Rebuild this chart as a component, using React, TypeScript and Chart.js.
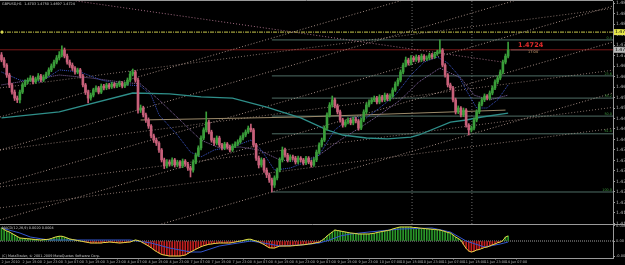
import React, { useEffect, useRef } from "react";
import { Chart, registerables } from "chart.js";

Chart.register(...registerables);

const FONT = '"DejaVu Sans", "Liberation Sans", sans-serif';

// ---------------- data ----------------
const symbolCaption = "GBPUSD,H1  1.4703 1.4750 1.4697 1.4724";
const macdCaption = "MACD(12,26,9) 0.0020 0.0004";
const copyright = "(C) MetaTrader, \u00a9 2001-2009 MetaQuotes Software Corp.";

const firstOpen = 1.4707;
const closes = [
  1.4690, 1.4673, 1.4640, 1.4607, 1.4583, 1.4563, 1.4557, 1.4583, 1.4607, 1.4617,
  1.4623, 1.4630, 1.4617, 1.4627, 1.4637, 1.4623, 1.4633, 1.4643, 1.4657, 1.4670,
  1.4683, 1.4697, 1.4707, 1.4723, 1.4703, 1.4683, 1.4673, 1.4663, 1.4650, 1.4657,
  1.4637, 1.4607, 1.4583, 1.4563, 1.4573, 1.4590, 1.4597, 1.4583, 1.4603, 1.4597,
  1.4607, 1.4600, 1.4610, 1.4603, 1.4607, 1.4613, 1.4603, 1.4610, 1.4623, 1.4643,
  1.4650, 1.4623, 1.4523, 1.4530, 1.4507, 1.4490, 1.4470, 1.4437, 1.4423, 1.4413,
  1.4390, 1.4357, 1.4337, 1.4350, 1.4343, 1.4357, 1.4340, 1.4350, 1.4337, 1.4353,
  1.4343, 1.4330, 1.4323, 1.4350, 1.4373, 1.4397, 1.4430, 1.4457, 1.4483, 1.4450,
  1.4423, 1.4413, 1.4430, 1.4407, 1.4397, 1.4410, 1.4400, 1.4390, 1.4403, 1.4410,
  1.4417, 1.4430, 1.4440, 1.4450, 1.4463, 1.4457, 1.4407, 1.4363, 1.4340, 1.4357,
  1.4323, 1.4307, 1.4290, 1.4273, 1.4297, 1.4323, 1.4357, 1.4390, 1.4373, 1.4357,
  1.4367, 1.4363, 1.4350, 1.4363, 1.4357, 1.4347, 1.4363, 1.4350, 1.4340, 1.4357,
  1.4383, 1.4407, 1.4423, 1.4463, 1.4507, 1.4540, 1.4557, 1.4537, 1.4517, 1.4490,
  1.4473, 1.4483, 1.4490, 1.4480, 1.4493, 1.4487, 1.4463, 1.4490, 1.4517, 1.4540,
  1.4550, 1.4557, 1.4563, 1.4550, 1.4567, 1.4557, 1.4573, 1.4560, 1.4570, 1.4590,
  1.4610, 1.4623, 1.4650, 1.4673, 1.4690, 1.4680, 1.4697, 1.4690, 1.4700, 1.4690,
  1.4703, 1.4693, 1.4697, 1.4707, 1.4700, 1.4710, 1.4717, 1.4723, 1.4673, 1.4640,
  1.4607, 1.4597, 1.4557, 1.4517, 1.4530, 1.4507, 1.4523, 1.4473, 1.4457, 1.4463,
  1.4490, 1.4517, 1.4543, 1.4557, 1.4570, 1.4563, 1.4580, 1.4597, 1.4617, 1.4630,
  1.4650, 1.4683, 1.4703, 1.4724,
];
const highs = [
  1.4715, 1.4698, 1.4678, 1.4646, 1.4612, 1.4590, 1.4570, 1.4590, 1.4614, 1.4624,
  1.4630, 1.4638, 1.4636, 1.4633, 1.4645, 1.4642, 1.4640, 1.4650, 1.4664, 1.4677,
  1.4690, 1.4705, 1.4718, 1.4737, 1.4730, 1.4710, 1.4690, 1.4680, 1.4668, 1.4663,
  1.4662, 1.4642, 1.4612, 1.4590, 1.4580, 1.4596, 1.4604, 1.4602, 1.4610, 1.4609,
  1.4613, 1.4612, 1.4616, 1.4615, 1.4613, 1.4620, 1.4618, 1.4616, 1.4630, 1.4652,
  1.4660, 1.4655, 1.4630, 1.4540, 1.4536, 1.4513, 1.4497, 1.4475, 1.4443, 1.4430,
  1.4418, 1.4395, 1.4363, 1.4358, 1.4357, 1.4364, 1.4362, 1.4356, 1.4355, 1.4360,
  1.4358, 1.4349, 1.4336, 1.4357, 1.4380, 1.4404, 1.4437, 1.4464, 1.4517, 1.4490,
  1.4456, 1.4430, 1.4437, 1.4436, 1.4412, 1.4416, 1.4415, 1.4406, 1.4410, 1.4417,
  1.4424, 1.4437, 1.4447, 1.4457, 1.4470, 1.4476, 1.4462, 1.4412, 1.4370, 1.4364,
  1.4362, 1.4330, 1.4313, 1.4296, 1.4304, 1.4330, 1.4364, 1.4400, 1.4396, 1.4379,
  1.4374, 1.4373, 1.4369, 1.4370, 1.4368, 1.4362, 1.4369, 1.4368, 1.4356, 1.4364,
  1.4390, 1.4414, 1.4430, 1.4470, 1.4514, 1.4548, 1.4570, 1.4563, 1.4543, 1.4523,
  1.4496, 1.4490, 1.4497, 1.4496, 1.4500, 1.4499, 1.4492, 1.4497, 1.4524, 1.4547,
  1.4557, 1.4564, 1.4570, 1.4569, 1.4574, 1.4572, 1.4580, 1.4578, 1.4577, 1.4597,
  1.4617, 1.4630, 1.4657, 1.4680, 1.4700, 1.4696, 1.4705, 1.4703, 1.4707, 1.4706,
  1.4710, 1.4708, 1.4704, 1.4713, 1.4712, 1.4716, 1.4723, 1.4757, 1.4728, 1.4678,
  1.4645, 1.4613, 1.4602, 1.4563, 1.4537, 1.4535, 1.4530, 1.4528, 1.4478, 1.4470,
  1.4497, 1.4524, 1.4550, 1.4564, 1.4577, 1.4575, 1.4587, 1.4604, 1.4624, 1.4637,
  1.4657, 1.4690, 1.4710, 1.4750,
];
const lows = [
  1.4684, 1.4665, 1.4632, 1.4598, 1.4576, 1.4555, 1.4548, 1.4547, 1.4578, 1.4601,
  1.4611, 1.4618, 1.4610, 1.4612, 1.4621, 1.4617, 1.4618, 1.4628, 1.4638, 1.4651,
  1.4664, 1.4677, 1.4690, 1.4700, 1.4697, 1.4676, 1.4665, 1.4655, 1.4643, 1.4644,
  1.4630, 1.4600, 1.4575, 1.4547, 1.4556, 1.4567, 1.4584, 1.4577, 1.4578, 1.4590,
  1.4591, 1.4594, 1.4595, 1.4597, 1.4598, 1.4601, 1.4597, 1.4598, 1.4605, 1.4618,
  1.4637, 1.4616, 1.4513, 1.4515, 1.4500, 1.4482, 1.4462, 1.4430, 1.4415, 1.4405,
  1.4382, 1.4350, 1.4328, 1.4330, 1.4336, 1.4337, 1.4333, 1.4334, 1.4330, 1.4331,
  1.4336, 1.4322, 1.4300, 1.4316, 1.4344, 1.4368, 1.4390, 1.4424, 1.4450, 1.4444,
  1.4416, 1.4405, 1.4407, 1.4400, 1.4390, 1.4391, 1.4393, 1.4384, 1.4385, 1.4398,
  1.4404, 1.4412, 1.4424, 1.4434, 1.4445, 1.4450, 1.4400, 1.4355, 1.4330, 1.4333,
  1.4315, 1.4298, 1.4282, 1.4250, 1.4265, 1.4290, 1.4317, 1.4350, 1.4366, 1.4350,
  1.4351, 1.4356, 1.4343, 1.4344, 1.4350, 1.4340, 1.4341, 1.4344, 1.4333, 1.4335,
  1.4351, 1.4377, 1.4400, 1.4418, 1.4456, 1.4500, 1.4533, 1.4530, 1.4510, 1.4483,
  1.4466, 1.4467, 1.4477, 1.4474, 1.4474, 1.4480, 1.4456, 1.4458, 1.4484, 1.4511,
  1.4534, 1.4544, 1.4551, 1.4544, 1.4544, 1.4550, 1.4551, 1.4554, 1.4554, 1.4565,
  1.4585, 1.4604, 1.4617, 1.4644, 1.4667, 1.4673, 1.4674, 1.4684, 1.4685, 1.4684,
  1.4685, 1.4687, 1.4688, 1.4691, 1.4694, 1.4695, 1.4705, 1.4712, 1.4667, 1.4633,
  1.4600, 1.4590, 1.4550, 1.4510, 1.4511, 1.4500, 1.4501, 1.4466, 1.4440, 1.4450,
  1.4457, 1.4484, 1.4511, 1.4537, 1.4551, 1.4557, 1.4557, 1.4574, 1.4591, 1.4611,
  1.4624, 1.4644, 1.4677, 1.4697,
];

const macdValues = [
  0.0052, 0.0046, 0.0040, 0.0036, 0.0030, 0.0024, 0.0018, 0.0012, 0.0011, 0.0010,
  0.0009, 0.0008, 0.0007, 0.0006, 0.0005, 0.0004, 0.0006, 0.0006, 0.0007, 0.0010,
  0.0014, 0.0017, 0.0019, 0.0019, 0.0016, 0.0012, 0.0008, 0.0006, 0.0004, 0.0002,
  0.0000, -0.0002, -0.0004, -0.0006, -0.0008, -0.0008, -0.0008, -0.0008, -0.0008, -0.0006,
  -0.0006, -0.0004, -0.0005, -0.0006, -0.0007, -0.0008, -0.0007, -0.0006, -0.0005, -0.0004,
  0.0000, 0.0004, 0.0002, -0.0002, -0.0008, -0.0014, -0.0020, -0.0027, -0.0035, -0.0042,
  -0.0048, -0.0054, -0.0056, -0.0058, -0.0060, -0.0060, -0.0060, -0.0060, -0.0060, -0.0058,
  -0.0056, -0.0050, -0.0044, -0.0039, -0.0033, -0.0028, -0.0023, -0.0019, -0.0016, -0.0013,
  -0.0012, -0.0010, -0.0009, -0.0008, -0.0008, -0.0008, -0.0008, -0.0008, -0.0006, -0.0004,
  -0.0002, 0.0000, 0.0002, 0.0005, 0.0007, 0.0007, 0.0003, 0.0000, -0.0003, -0.0009,
  -0.0014, -0.0021, -0.0027, -0.0028, -0.0028, -0.0024, -0.0020, -0.0020, -0.0020, -0.0020,
  -0.0020, -0.0019, -0.0018, -0.0017, -0.0016, -0.0015, -0.0014, -0.0012, -0.0011, -0.0009,
  -0.0006, -0.0005, 0.0002, 0.0010, 0.0020, 0.0028, 0.0036, 0.0044, 0.0042, 0.0040,
  0.0038, 0.0036, 0.0034, 0.0032, 0.0031, 0.0030, 0.0028, 0.0028, 0.0028, 0.0028,
  0.0028, 0.0030, 0.0031, 0.0034, 0.0036, 0.0038, 0.0040, 0.0042, 0.0044, 0.0048,
  0.0051, 0.0054, 0.0056, 0.0056, 0.0056, 0.0056, 0.0056, 0.0054, 0.0054, 0.0052,
  0.0051, 0.0050, 0.0049, 0.0048, 0.0047, 0.0046, 0.0045, 0.0044, 0.0041, 0.0038,
  0.0034, 0.0032, 0.0024, 0.0016, 0.0010, 0.0003, -0.0014, -0.0030, -0.0040, -0.0044,
  -0.0041, -0.0036, -0.0034, -0.0030, -0.0026, -0.0024, -0.0020, -0.0015, -0.0012, -0.0007,
  -0.0004, 0.0002, 0.0016, 0.0020,
];
const macdSignal = [
  [0, 0.0052], [7, 0.0032], [11, 0.0016], [18, 0.0004], [49, 0.0004], [57, -0.0008],
  [64, -0.0028], [72, -0.0044], [76, -0.0044], [83, -0.0020], [95, 0.0000], [102, -0.0012],
  [106, -0.0020], [114, -0.0016], [121, -0.0008], [125, 0.0004], [129, 0.0020], [133, 0.0028],
  [140, 0.0036], [152, 0.0048], [164, 0.0052], [171, 0.0036], [177, 0.0000], [184, -0.0024],
  [190, -0.0012], [193, -0.0004],
];

const timeLabels = [
  "2 Jun 2010", "2 Jun 15:00", "2 Jun 23:00", "3 Jun 07:00", "3 Jun 15:00", "3 Jun 23:00",
  "4 Jun 07:00", "4 Jun 15:00", "4 Jun 23:00", "7 Jun 07:00", "7 Jun 15:00", "7 Jun 23:00",
  "8 Jun 07:00", "8 Jun 15:00", "8 Jun 23:00", "9 Jun 07:00", "9 Jun 15:00", "9 Jun 23:00",
  "10 Jun 07:00", "10 Jun 15:00", "10 Jun 23:00", "11 Jun 07:00", "11 Jun 15:00", "11 Jun 23:00",
  "14 Jun 07:00",
];
const barsPerTimeLabel = 8;

const priceTicks = [
  1.4145, 1.4180, 1.4215, 1.4250, 1.4285, 1.4320, 1.4355, 1.4390, 1.4425, 1.4460, 1.4495,
  1.4530, 1.4565, 1.4600, 1.4635, 1.4670, 1.4705, 1.4740, 1.4775, 1.4810, 1.4845, 1.4880,
];
const macdTicks = [0.0061, 0, -0.0061];
const macdTickLabels = ["0.0061", "0.00", "-0.0061"];

// moving averages: [bar, price]
const maSlow = [
  [0, 1.4497], [22, 1.4517], [50, 1.4580], [64, 1.4577], [76, 1.4567], [88, 1.4563],
  [101, 1.4533], [114, 1.4497], [124, 1.4457], [130, 1.4440], [139, 1.4430], [147, 1.4427],
  [156, 1.4433], [159, 1.4440], [171, 1.4483], [177, 1.4490], [183, 1.4500], [193, 1.4513],
];
const maFast = [
  [0, 1.4650], [7, 1.4623], [15, 1.4617], [22, 1.4657], [30, 1.4650], [38, 1.4623],
  [45, 1.4610], [53, 1.4603], [57, 1.4573], [60, 1.4507], [67, 1.4440], [72, 1.4383],
  [76, 1.4367], [81, 1.4390], [89, 1.4403], [95, 1.4423], [99, 1.4390], [104, 1.4323],
  [110, 1.4330], [116, 1.4350], [121, 1.4373], [127, 1.4457], [133, 1.4497], [139, 1.4497],
  [144, 1.4530], [150, 1.4573], [156, 1.4640], [161, 1.4683], [166, 1.4700], [170, 1.4680],
  [174, 1.4640], [177, 1.4590], [181, 1.4530], [185, 1.4530], [189, 1.4557], [193, 1.4607],
];
const maMid = [
  [0, 1.4607], [11, 1.4623], [22, 1.4640], [34, 1.4630], [45, 1.4617], [53, 1.4610],
  [60, 1.4557], [68, 1.4490], [76, 1.4423], [83, 1.4397], [91, 1.4400], [98, 1.4390],
  [106, 1.4357], [114, 1.4350], [121, 1.4373], [129, 1.4423], [137, 1.4467], [144, 1.4507],
  [152, 1.4557], [159, 1.4617], [167, 1.4663], [175, 1.4630], [180, 1.4573], [186, 1.4557],
  [193, 1.4573],
];
const maLong = [[53, 1.4490], [114, 1.4500], [192, 1.4523]];

// drawn objects: [barA, priceA, barB, priceB]
const gentleLines = [
  [-0.57, 1.4597, 233.7, 1.4863], [-0.57, 1.4390, 233.7, 1.4657],
  [-0.57, 1.4267, 233.7, 1.4533], [-0.57, 1.4197, 233.7, 1.4463],
];
const channelLines = [
  [-0.57, 1.3987, 233.7, 1.4582], [-0.57, 1.4157, 233.7, 1.4752],
  [-0.57, 1.4277, 233.7, 1.4872], [-0.57, 1.4390, 233.7, 1.4985],
  [-0.57, 1.4500, 233.7, 1.5095],
];
const descLine = [[26, 1.4890], [191, 1.4683]];
const fibStartBar = 103;
const fibLevels = [1.4757, 1.4637, 1.4563, 1.4503, 1.4444, 1.4250];
const fibLabels = ["0.0", "23.6", "38.2", "50.0", "61.8", "100.0"];
const alertLevel = 1.4783;
const bidPrice = 1.4724;
const separatorBars = [156.4, 179.2];
const bidText = { bar: 196.8, price: 1.4733, text: "1.4724" };
const timerText = { bar: 200.6, price: 1.4712, text: "17:04" };
const bidTag = [[194, 1.4724], [205, 1.4724]];

// ---------------- chart ----------------
const XMIN = -0.5714;
const XMAX = 232.95;
const PMIN = 1.41433;
const PMAX = 1.48867;
const AXIS = "#9a9a9a";
const LABEL = "#b8b8b8";
const UP = "#3a9e3a";
const DOWN = "#c8607a";

const pts = (arr: number[][]) => arr.map(([x, y]) => ({ x, y }));
const seg = (l: number[]) => [{ x: l[0], y: l[1] }, { x: l[2], y: l[3] }];

function lineDs(data: any[], color: string, extra: any = {}) {
  return {
    type: "line",
    data,
    borderColor: color,
    borderWidth: 1,
    pointRadius: 0,
    tension: 0,
    fill: false,
    order: 3,
    ...extra,
  };
}

export default function App() {
  const mainRef = useRef<HTMLCanvasElement>(null);
  const subRef = useRef<HTMLCanvasElement>(null);

  useEffect(() => {
    document.body.style.margin = "0";
    document.body.style.background = "#000";
    const opens = closes.map((c, i) => (i === 0 ? firstOpen : closes[i - 1]));
    const isUp = (i: number) => closes[i] >= opens[i];

    const datasets: any[] = [];
    datasets.push({
      type: "bar",
      data: closes.map((c, i) => ({ x: i, y: [opens[i], c] })),
      backgroundColor: (ctx: any) => (isUp(ctx.dataIndex) ? UP : DOWN),
      barThickness: 2,
      minBarLength: 1,
      grouped: false,
      order: 1,
    });
    datasets.push({
      type: "bar",
      data: closes.map((c, i) => ({ x: i, y: [lows[i], highs[i]] })),
      backgroundColor: (ctx: any) => (isUp(ctx.dataIndex) ? UP : DOWN),
      barThickness: 1,
      grouped: false,
      order: 1,
    });
    datasets.push(lineDs(pts(maSlow), "#2f8f8a", { borderWidth: 1.3, order: 2 }));
    datasets.push(lineDs(pts(maFast), "#3b55c8", { borderDash: [1, 1], order: 2 }));
    datasets.push(lineDs(pts(maMid), "#8a6aa8", { borderDash: [1, 1], order: 2 }));
    datasets.push(lineDs(pts(maLong), "#9c8a6a", { order: 2 }));
    gentleLines.forEach((l) => datasets.push(lineDs(seg(l), "rgba(200,170,160,0.65)", { borderDash: [1, 2] })));
    channelLines.forEach((l) => datasets.push(lineDs(seg(l), "rgba(210,180,170,0.75)", { borderDash: [1, 2] })));
    datasets.push(lineDs(pts(descLine), "#a06a80", { borderDash: [1, 2] }));
    fibLevels.forEach((lv) =>
      datasets.push(lineDs([{ x: fibStartBar, y: lv }, { x: XMAX, y: lv }], "#4f6e66"))
    );
    datasets.push(lineDs([{ x: XMIN, y: alertLevel }, { x: XMAX, y: alertLevel }], "#c8c84a", { borderDash: [4, 1, 1, 1] }));
    datasets.push(lineDs([{ x: XMIN, y: bidPrice }, { x: XMAX, y: bidPrice }], "#7a1818"));
    datasets.push(lineDs(pts(bidTag), "#9a9a9a"));
    separatorBars.forEach((b) =>
      datasets.push(lineDs([{ x: b, y: PMIN }, { x: b, y: PMAX }], "#6a6a6a", { borderDash: [1, 2] }))
    );

    const mainDecor = {
      id: "mainDecor",
      afterDraw(chart: any) {
        const { ctx, chartArea: a, scales } = chart;
        const x = scales.x;
        const y = scales.y;
        ctx.save();
        ctx.strokeStyle = AXIS;
        ctx.lineWidth = 1;
        ctx.beginPath();
        ctx.moveTo(a.left, a.top - 0.5);
        ctx.lineTo(a.right, a.top - 0.5);
        ctx.moveTo(a.left, a.bottom + 0.5);
        ctx.lineTo(chart.width, a.bottom + 0.5);
        ctx.stroke();

        ctx.fillStyle = "#d8d850";
        ctx.fillRect(a.left + 1, y.getPixelForValue(alertLevel) - 1.5, 2, 3);

        ctx.textBaseline = "top";
        ctx.textAlign = "left";
        ctx.fillStyle = "#c8c8c8";
        ctx.font = `3.4px ${FONT}`;
        ctx.fillText(symbolCaption, a.left + 2, a.top + 1);

        ctx.textAlign = "right";
        ctx.textBaseline = "bottom";
        ctx.fillStyle = "#3d9a3d";
        ctx.font = `3.4px ${FONT}`;
        fibLevels.forEach((lv, k) => ctx.fillText(fibLabels[k], a.right - 1, y.getPixelForValue(lv) - 0.5));

        ctx.textAlign = "left";
        ctx.textBaseline = "alphabetic";
        ctx.fillStyle = "#e02a2a";
        ctx.font = `bold 6.5px ${FONT}`;
        ctx.fillText(bidText.text, x.getPixelForValue(bidText.bar), y.getPixelForValue(bidText.price));
        ctx.fillStyle = "#d0a070";
        ctx.font = `3.4px ${FONT}`;
        ctx.fillText(timerText.text, x.getPixelForValue(timerText.bar), y.getPixelForValue(timerText.price));

        const tag = (price: number, bg: string) => {
          const py = y.getPixelForValue(price);
          ctx.fillStyle = bg;
          ctx.fillRect(a.right + 1, py - 3, chart.width - a.right - 1, 6);
          ctx.fillStyle = "#000";
          ctx.font = `4.5px ${FONT}`;
          ctx.textBaseline = "middle";
          ctx.textAlign = "left";
          ctx.fillText(price.toFixed(4), a.right + 2, py);
        };
        tag(alertLevel, "#e6e64a");
        tag(bidPrice, "#b8b8b8");
        ctx.restore();
      },
    };

    const main = new Chart(mainRef.current as HTMLCanvasElement, {
      type: "bar",
      data: { datasets },
      options: {
        responsive: false,
        animation: false,
        events: [],
        layout: { padding: { top: 1, bottom: 1, left: 0, right: 0 } },
        plugins: { legend: { display: false }, tooltip: { enabled: false } },
        scales: {
          x: { type: "linear", min: XMIN, max: XMAX, display: false, offset: false },
          y: {
            position: "right",
            min: PMIN,
            max: PMAX,
            afterFit: (s: any) => {
              s.width = 12;
              s.paddingTop = 0;
              s.paddingBottom = 0;
            },
            afterBuildTicks: (s: any) => {
              s.ticks = priceTicks.map((v) => ({ value: v }));
            },
            ticks: {
              autoSkip: false,
              padding: 1,
              color: LABEL,
              font: { size: 4.5, family: FONT },
              callback: (v: any) => Number(v).toFixed(4),
            },
            grid: { drawOnChartArea: false, drawTicks: true, tickLength: 2, color: AXIS },
            border: { display: true, color: AXIS },
          },
        },
      } as any,
      plugins: [mainDecor],
    } as any);

    const subDatasets: any[] = [
      {
        type: "bar",
        data: macdValues.map((v, i) => ({ x: i, y: v })),
        backgroundColor: macdValues.map((v) => (v >= 0 ? "#2a9a2a" : "#c42020")),
        barThickness: 1,
        grouped: false,
        order: 3,
      },
      lineDs([{ x: XMIN, y: 0 }, { x: XMAX, y: 0 }], "#a0a0a0", { borderDash: [1, 1], order: 4 }),
      lineDs(macdValues.map((v, i) => ({ x: i, y: v })), "#e8d848", { order: 1 }),
      lineDs(pts(macdSignal), "#3355cc", { order: 2 }),
    ];

    const subDecor = {
      id: "subDecor",
      afterDraw(chart: any) {
        const { ctx, chartArea: a } = chart;
        ctx.save();
        ctx.strokeStyle = AXIS;
        ctx.lineWidth = 1;
        ctx.beginPath();
        ctx.moveTo(a.left, a.bottom + 0.5);
        ctx.lineTo(a.right, a.bottom + 0.5);
        ctx.stroke();
        ctx.fillStyle = "#c8c8c8";
        ctx.font = `3.4px ${FONT}`;
        ctx.textAlign = "left";
        ctx.textBaseline = "top";
        ctx.fillText(macdCaption, a.left + 2, a.top + 1.5);
        ctx.textBaseline = "bottom";
        ctx.fillText(copyright, a.left + 2, a.bottom - 0.5);
        ctx.restore();
      },
    };

    const sub = new Chart(subRef.current as HTMLCanvasElement, {
      type: "bar",
      data: { datasets: subDatasets },
      options: {
        responsive: false,
        animation: false,
        events: [],
        layout: { padding: 0 },
        plugins: { legend: { display: false }, tooltip: { enabled: false } },
        scales: {
          x: {
            type: "linear",
            min: XMIN,
            max: XMAX,
            offset: false,
            afterFit: (s: any) => {
              s.height = 7;
              s.paddingLeft = 0;
              s.paddingRight = 0;
            },
            afterBuildTicks: (s: any) => {
              s.ticks = timeLabels.map((_, k) => ({ value: k * barsPerTimeLabel }));
            },
            ticks: {
              autoSkip: false,
              maxRotation: 0,
              minRotation: 0,
              align: "start",
              padding: 0.5,
              color: LABEL,
              font: { size: 3.4, family: FONT },
              callback: (_v: any, i: number) => timeLabels[i],
            },
            grid: { drawOnChartArea: false, drawTicks: true, tickLength: 1.5, color: AXIS },
            border: { display: false },
          },
          y: {
            position: "right",
            min: -0.0068,
            max: 0.0064,
            afterFit: (s: any) => {
              s.width = 12;
              s.paddingTop = 0;
              s.paddingBottom = 0;
            },
            afterBuildTicks: (s: any) => {
              s.ticks = macdTicks.map((v) => ({ value: v }));
            },
            ticks: {
              autoSkip: false,
              padding: 1,
              color: LABEL,
              font: { size: 3.6, family: FONT },
              callback: (_v: any, i: number) => macdTickLabels[i],
            },
            grid: { drawOnChartArea: false, drawTicks: true, tickLength: 2, color: AXIS },
            border: { display: true, color: AXIS },
          },
        },
      } as any,
      plugins: [subDecor],
    } as any);

    return () => {
      main.destroy();
      sub.destroy();
    };
  }, []);

  return (
    <div style={{ position: "absolute", left: 0, top: 0, width: 625, height: 265, background: "#000", overflow: "hidden" }}>
      <canvas ref={mainRef} width={625} height={225} style={{ position: "absolute", left: 0, top: 0 }} />
      <canvas ref={subRef} width={625} height={40} style={{ position: "absolute", left: 0, top: 225 }} />
    </div>
  );
}
